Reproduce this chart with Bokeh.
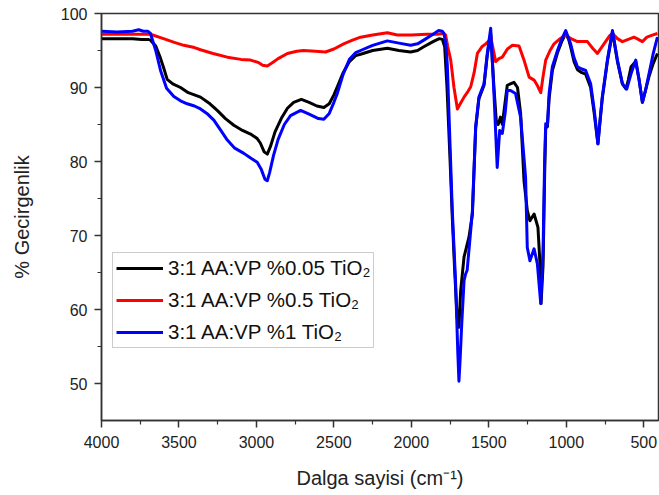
from bokeh.plotting import figure
from bokeh.models import Range1d, FixedTicker, Legend, LegendItem
from bokeh.embed import file_html
from bokeh.resources import INLINE

# ---- data ----
black_x = [4000, 3800, 3740, 3700, 3684, 3650, 3620, 3598, 3576, 3540, 3490, 3440, 3361, 3300, 3253, 3200,
           3146, 3090, 3038, 2995, 2975, 2950, 2930, 2910, 2880, 2840, 2800, 2760, 2710, 2660, 2610, 2565,
           2530, 2500, 2478, 2440, 2400, 2360, 2328, 2250, 2155, 2080, 2005, 1960, 1920, 1860, 1820, 1800,
           1785, 1770, 1750, 1735, 1720, 1705, 1693, 1682, 1660, 1628, 1606, 1585, 1564, 1531, 1510, 1488,
           1467, 1452, 1440, 1425, 1413, 1395, 1381, 1338, 1315, 1295, 1273, 1252, 1235, 1208, 1183, 1170,
           1163, 1150, 1140, 1133, 1122, 1111, 1090, 1057, 1030, 1004, 985, 972, 950, 928, 900, 875, 843,
           820, 796, 780, 768, 735, 702, 690, 670, 638, 615, 600, 582, 552, 530, 509, 490, 466, 440, 412]
black_y = [96.6, 96.6, 96.5, 96.5, 96.4, 95.6, 94.0, 92.6, 91.1, 90.5, 90.0, 89.3, 88.7, 87.8, 86.9, 85.8,
           84.9, 84.2, 83.7, 83.1, 82.5, 81.3, 81.0, 82.0, 84.0, 85.8, 87.2, 88.0, 88.4, 88.0, 87.5, 87.3,
           87.8, 89.0, 90.1, 92.0, 93.5, 94.3, 94.5, 95.0, 95.3, 95.0, 94.8, 95.0, 95.5, 96.2, 96.6, 96.5,
           95.5, 90.0, 80.0, 72.0, 65.0, 59.0, 57.6, 62.5, 67.1, 69.8, 72.9, 84.5, 88.5, 90.3, 94.4, 97.3,
           90.0, 85.5, 85.0, 86.0, 85.0, 88.0, 90.3, 90.7, 90.0, 86.5, 77.4, 73.4, 72.0, 72.9, 71.1, 66.2,
           60.8, 66.0, 78.0, 84.5, 84.7, 88.5, 92.3, 94.7, 96.2, 97.3, 96.5, 95.5, 93.5, 92.4, 92.0, 91.8, 90.0,
           86.5, 82.4, 86.0, 88.5, 93.5, 97.5, 96.0, 93.5, 90.5, 89.8, 91.0, 92.8, 93.5, 91.0, 88.0, 89.5, 91.5,
           93.2, 94.6]

red_x = [4000, 3800, 3700, 3684, 3600, 3530, 3469, 3400, 3361, 3280, 3188, 3100, 3038, 2990, 2960, 2930,
         2900, 2860, 2800, 2740, 2696, 2620, 2554, 2500, 2437, 2380, 2328, 2250, 2155, 2091, 2000, 1900,
         1833, 1792, 1779, 1765, 1746, 1725, 1703, 1690, 1660, 1640, 1617, 1595, 1574, 1545, 1520, 1500,
         1488, 1475, 1456, 1435, 1413, 1380, 1348, 1305, 1270, 1240, 1208, 1185, 1165, 1150, 1133, 1105,
         1079, 1040, 1004, 970, 928, 864, 830, 799, 760, 720, 702, 670, 638, 600, 563, 535, 509, 480, 440, 412]
red_y = [97.2, 97.2, 97.2, 97.2, 96.6, 96.1, 95.7, 95.4, 95.1, 94.6, 94.1, 93.8, 93.7, 93.4, 93.0, 92.9,
         93.3, 93.9, 94.6, 94.9, 95.0, 94.9, 94.8, 95.2, 95.9, 96.4, 96.8, 97.1, 97.4, 97.1, 97.1, 97.2,
         97.2, 97.3, 97.1, 95.5, 93.7, 90.0, 87.1, 87.6, 88.7, 89.3, 90.1, 92.0, 94.6, 95.5, 95.9, 96.3,
         96.8, 95.5, 93.5, 93.9, 94.1, 95.2, 95.7, 95.6, 93.5, 91.4, 91.0, 90.2, 89.3, 91.5, 93.7, 95.0,
         95.9, 96.6, 97.1, 96.6, 96.2, 96.2, 95.3, 94.6, 95.8, 97.0, 97.3, 96.6, 96.2, 96.5, 96.8, 96.5,
         96.2, 96.8, 97.1, 97.3]

blue_x = [4000, 3900, 3800, 3760, 3730, 3700, 3684, 3650, 3619, 3580, 3533, 3490, 3447, 3400, 3361, 3320,
          3275, 3230, 3188, 3140, 3081, 3040, 2995, 2970, 2945, 2930, 2915, 2890, 2860, 2820, 2780, 2715,
          2660, 2600, 2565, 2530, 2500, 2478, 2440, 2400, 2360, 2328, 2250, 2155, 2080, 2005, 1960, 1920,
          1860, 1824, 1800, 1790, 1778, 1768, 1750, 1736, 1715, 1700, 1693, 1686, 1675, 1660, 1650, 1640,
          1620, 1606, 1585, 1564, 1531, 1510, 1488, 1467, 1446, 1430, 1413, 1395, 1381, 1360, 1328, 1295,
          1263, 1252, 1235, 1208, 1187, 1165, 1150, 1140, 1133, 1122, 1111, 1090, 1057, 1030, 1004, 972,
          950, 928, 900, 875, 843, 820, 796, 780, 768, 735, 702, 670, 638, 610, 580, 552, 530, 509, 490,
          466, 440, 412]
blue_y = [97.6, 97.5, 97.6, 97.8, 97.6, 97.6, 97.3, 95.0, 92.3, 89.9, 88.8, 88.2, 87.8, 87.5, 87.1, 86.5,
          85.6, 84.2, 82.9, 81.8, 81.1, 80.5, 79.9, 79.0, 77.6, 77.4, 78.5, 80.8, 83.0, 85.0, 86.2, 86.9,
          86.4, 85.8, 85.7, 86.5, 88.0, 89.2, 91.8, 93.8, 94.7, 95.0, 95.7, 96.3, 96.0, 95.7, 95.9, 96.4,
          97.2, 97.7, 97.6, 97.3, 96.0, 93.0, 82.0, 73.4, 63.9, 54.0, 50.3, 53.0, 58.0, 63.9, 64.8, 65.3,
          70.0, 73.4, 84.7, 88.7, 90.5, 94.6, 98.0, 89.2, 79.2, 84.2, 83.8, 86.5, 89.6, 89.6, 89.2, 86.0,
          77.9, 68.4, 66.6, 68.2, 66.2, 60.8, 68.0, 80.0, 85.1, 84.9, 89.2, 92.8, 95.0, 96.5, 97.7, 95.9,
          94.0, 92.8, 92.5, 92.3, 90.5, 87.0, 82.4, 86.0, 88.7, 93.7, 97.7, 93.7, 90.5, 89.8, 92.0, 93.7,
          91.0, 88.0, 89.5, 91.9, 94.5, 96.8]

x_ticks = [4000, 3500, 3000, 2500, 2000, 1500, 1000, 500]
x_minor = [3750, 3250, 2750, 2250, 1750, 1250, 750]
y_ticks = [50, 60, 70, 80, 90, 100]
y_minor = [55, 65, 75, 85, 95]

labels = ["3:1 AA:VP %0.05 TiO\u2082", "3:1 AA:VP %0.5 TiO\u2082", "3:1 AA:VP %1 TiO\u2082"]

FONT = "Liberation Sans"
AX = "#333333"

p = figure(width=659, height=495, output_backend="svg", toolbar_location=None,
           x_range=Range1d(4000, 405), y_range=Range1d(45, 100),
           min_border_left=101, min_border_right=1, min_border_top=13, min_border_bottom=75)
p.grid.visible = False
p.outline_line_color = AX
p.outline_line_width = 1.5
p.background_fill_color = "white"
p.border_fill_color = "white"

for ax in (p.xaxis[0], p.yaxis[0]):
    ax.axis_line_color = AX
    ax.axis_line_width = 1.5
    ax.major_tick_line_color = AX
    ax.minor_tick_line_color = AX
    ax.major_tick_line_width = 1.5
    ax.minor_tick_line_width = 1.2
    ax.major_tick_out = 7
    ax.major_tick_in = 0
    ax.minor_tick_out = 4
    ax.minor_tick_in = 0
    ax.major_label_text_font = FONT
    ax.major_label_text_font_size = "16px"
    ax.major_label_text_color = "#222222"
    ax.axis_label_text_font = FONT
    ax.axis_label_text_font_size = "20px"
    ax.axis_label_text_font_style = "normal"
    ax.axis_label_text_color = "#222222"

p.xaxis.ticker = FixedTicker(ticks=x_ticks, minor_ticks=x_minor)
p.yaxis.ticker = FixedTicker(ticks=y_ticks, minor_ticks=y_minor)
p.xaxis.axis_label = "Dalga sayisi (cm\u207b\u00b9)"
p.yaxis.axis_label = "% Gecirgenlik"
p.xaxis.major_label_standoff = 8
p.yaxis.major_label_standoff = 7
p.xaxis.axis_label_standoff = 16
p.yaxis.axis_label_standoff = 25

rb = p.line(black_x, black_y, line_color="#000000", line_width=3, line_join="round")
rr = p.line(red_x, red_y, line_color="#ff0000", line_width=3, line_join="round")
rbl = p.line(blue_x, blue_y, line_color="#0000ff", line_width=3, line_join="round")

legend = Legend(items=[LegendItem(label=labels[0], renderers=[rb]),
                       LegendItem(label=labels[1], renderers=[rr]),
                       LegendItem(label=labels[2], renderers=[rbl])],
                location=(11, 72), label_text_font=FONT, label_text_font_size="20.5px",
                label_text_color="#111111", glyph_width=47, glyph_height=24, label_height=24,
                label_standoff=5, padding=3, margin=0, spacing=8,
                border_line_color="#999999", border_line_width=1,
                background_fill_color="white", background_fill_alpha=1.0)
p.add_layout(legend)

open("out.html", "w").write(file_html(p, INLINE))
